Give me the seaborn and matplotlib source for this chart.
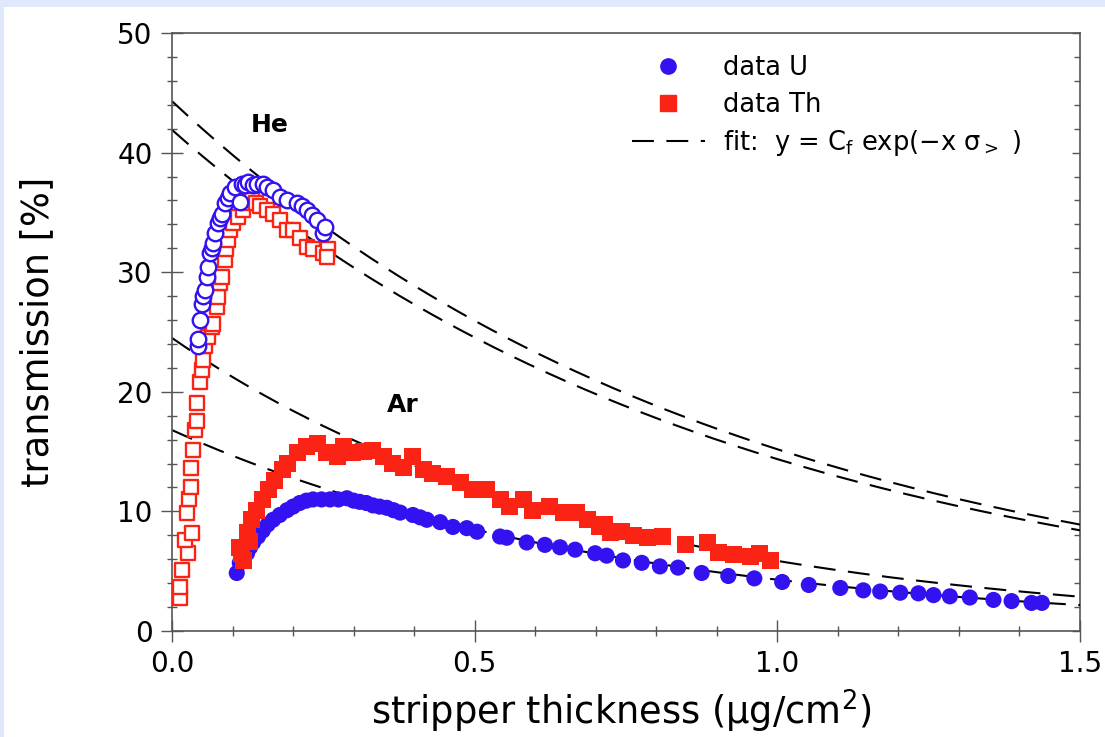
import numpy as np
import pandas as pd
import matplotlib
matplotlib.use("Agg")
import matplotlib.pyplot as plt
from matplotlib.lines import Line2D
from matplotlib.patches import Rectangle
from matplotlib.ticker import MultipleLocator, FixedLocator
import seaborn as sns

# ---- He stripper, Th beam (open squares) ----
he_th_x = [0.013, 0.013, 0.017, 0.027, 0.022, 0.033, 0.025, 0.028, 0.031, 0.032,
           0.035, 0.038, 0.041, 0.041, 0.046, 0.049, 0.051, 0.054, 0.060, 0.066,
           0.068, 0.074, 0.076, 0.079, 0.082, 0.088, 0.090, 0.093, 0.096, 0.100,
           0.109, 0.117, 0.124, 0.132, 0.138, 0.145, 0.157, 0.167, 0.178, 0.190,
           0.200, 0.211, 0.223, 0.233, 0.250, 0.258, 0.256]
he_th_y = [2.8, 3.7, 5.1, 6.5, 7.6, 8.2, 9.9, 11.0, 12.0, 13.6,
           15.1, 16.8, 17.6, 19.1, 20.8, 21.8, 22.7, 23.8, 24.6, 25.4,
           25.7, 27.1, 27.9, 29.1, 29.6, 31.0, 31.9, 32.7, 33.5, 34.1,
           34.6, 35.2, 35.8, 36.0, 35.8, 35.5, 35.2, 34.9, 34.4, 33.5,
           33.5, 32.9, 32.1, 31.9, 31.6, 31.9, 31.3]

# ---- He stripper, U beam (open circles) ----
he_u_x = [0.043, 0.043, 0.046, 0.049, 0.052, 0.054, 0.058, 0.060, 0.063, 0.066,
          0.068, 0.071, 0.076, 0.080, 0.083, 0.088, 0.092, 0.096, 0.104, 0.112,
          0.115, 0.120, 0.126, 0.133, 0.140, 0.151, 0.157, 0.167, 0.178, 0.190,
          0.206, 0.215, 0.223, 0.232, 0.240, 0.250, 0.253]
he_u_y = [23.8, 24.4, 26.0, 27.3, 28.0, 28.5, 29.6, 30.4, 31.6, 32.0,
          32.4, 33.3, 34.1, 34.5, 34.9, 35.8, 36.2, 36.6, 37.1, 35.9,
          37.4, 37.3, 37.5, 37.3, 37.4, 37.4, 37.1, 36.9, 36.3, 36.0,
          35.8, 35.5, 35.2, 34.8, 34.4, 33.3, 33.8]

# ---- Ar stripper, U beam (filled circles) ----
ar_u_x = [0.107, 0.112, 0.118, 0.124, 0.129, 0.134, 0.142, 0.150, 0.158, 0.167,
          0.178, 0.190, 0.200, 0.211, 0.222, 0.233, 0.247, 0.261, 0.275, 0.289,
          0.300, 0.310, 0.321, 0.332, 0.343, 0.355, 0.366, 0.377, 0.398, 0.410,
          0.421, 0.443, 0.464, 0.487, 0.504, 0.542, 0.553, 0.586, 0.616, 0.641,
          0.666, 0.699, 0.718, 0.745, 0.776, 0.806, 0.836, 0.875, 0.919, 0.962,
          1.008, 1.052, 1.104, 1.142, 1.170, 1.203, 1.233, 1.258, 1.285, 1.318,
          1.357, 1.387, 1.420, 1.437]
ar_u_y = [4.85, 5.7, 6.1, 6.5, 7.0, 7.4, 7.9, 8.4, 8.9, 9.3,
          9.7, 10.1, 10.4, 10.7, 10.9, 11.0, 11.0, 11.0, 11.0, 11.1,
          10.9, 10.8, 10.7, 10.5, 10.4, 10.3, 10.1, 9.9, 9.7, 9.5,
          9.3, 9.1, 8.7, 8.6, 8.3, 7.9, 7.8, 7.4, 7.2, 7.0,
          6.8, 6.5, 6.3, 5.9, 5.7, 5.4, 5.3, 4.85, 4.6, 4.4,
          4.1, 3.85, 3.6, 3.4, 3.3, 3.2, 3.15, 3.0, 2.9, 2.8,
          2.6, 2.5, 2.35, 2.35]

# ---- Ar stripper, Th beam (filled squares) ----
ar_th_x = [0.112, 0.118, 0.115, 0.124, 0.128, 0.132, 0.140, 0.150, 0.159, 0.170,
           0.182, 0.190, 0.207, 0.223, 0.240, 0.256, 0.273, 0.283, 0.299, 0.316,
           0.332, 0.349, 0.365, 0.382, 0.398, 0.415, 0.431, 0.454, 0.476, 0.497,
           0.520, 0.542, 0.558, 0.580, 0.596, 0.624, 0.646, 0.669, 0.686, 0.707,
           0.724, 0.715, 0.743, 0.762, 0.785, 0.811, 0.848, 0.884, 0.902, 0.927,
           0.955, 0.971, 0.988]
ar_th_y = [7.0, 5.9, 6.5, 8.2, 7.5, 9.3, 10.1, 11.0, 11.8, 12.6,
           13.5, 14.0, 14.9, 15.4, 15.7, 14.9, 14.6, 15.4, 14.9, 15.0,
           15.1, 14.6, 14.0, 13.7, 14.6, 13.5, 13.2, 12.9, 12.4, 11.8,
           11.8, 11.0, 10.4, 11.0, 10.1, 10.4, 9.9, 9.9, 9.3, 8.7,
           8.2, 8.9, 8.3, 8.0, 7.8, 7.9, 7.2, 7.4, 6.6, 6.4,
           6.2, 6.5, 5.9]

# ---- exponential fits y = C_f * exp(-x * sigma) ----
fit_names = ["He U", "He Th", "Ar U", "Ar Th"]
fit_cf = [44.3, 41.9, 16.8, 24.5]
fit_sigma = [1.07, 1.07, 1.365, 1.43]

x_ticks = [0.0, 0.5, 1.0, 1.5]
x_tick_labels = ["0.0", "0.5", "1.0", "1.5"]
y_ticks = [0, 10, 20, 30, 40, 50]

BLUE = "#3212f0"
RED = "#fb2414"
GREY = "#555555"
DASH = (0, (10.5, 6))

sns.set_style("white")
plt.rcParams["font.family"] = ["DejaVu Sans"]
plt.rcParams["mathtext.default"] = "regular"
plt.rcParams["text.color"] = "black"
plt.rcParams["axes.labelcolor"] = "black"

fig = plt.figure(figsize=(11.05, 7.37), dpi=100, facecolor="#dfe9fb")
fig.patches.append(Rectangle((4 / 1105, 0), 1, 730 / 737, transform=fig.transFigure,
                             facecolor="white", edgecolor="none", zorder=-10))
ax = fig.add_axes([172 / 1105, 106 / 737, 908 / 1105, 598 / 737])
ax.set_facecolor("white")

# fitted curves
x_fit = np.linspace(0.0, 1.5, 300)
for cf, sig in zip(fit_cf, fit_sigma):
    fit_df = pd.DataFrame({"x": x_fit, "y": cf * np.exp(-x_fit * sig)})
    sns.lineplot(data=fit_df, x="x", y="y", color="black", linewidth=1.5,
                 linestyle=DASH, ax=ax, zorder=2)

# He data (open markers)
sns.scatterplot(x=he_th_x, y=he_th_y, marker="s", s=110, color="white",
                edgecolor=RED, linewidth=1.7, ax=ax, zorder=3)
sns.scatterplot(x=he_u_x, y=he_u_y, marker="o", s=125, color="white",
                edgecolor=BLUE, linewidth=1.7, ax=ax, zorder=4)

# Ar data (filled markers)
sns.scatterplot(x=ar_u_x, y=ar_u_y, marker="o", s=135, color=BLUE,
                edgecolor="none", linewidth=0, ax=ax, zorder=3)
sns.scatterplot(x=ar_th_x, y=ar_th_y, marker="s", s=150, color=RED,
                edgecolor="none", linewidth=0, ax=ax, zorder=4)

ax.text(0.162, 42.3, "He", fontsize=18, fontweight="bold", ha="center", va="center")
ax.text(0.381, 18.9, "Ar", fontsize=18, fontweight="bold", ha="center", va="center")

ax.set_xlim(0, 1.5)
ax.set_ylim(0, 50)
ax.xaxis.set_major_locator(FixedLocator(x_ticks))
ax.set_xticklabels(x_tick_labels)
ax.yaxis.set_major_locator(FixedLocator(y_ticks))
ax.xaxis.set_minor_locator(MultipleLocator(0.1))
ax.yaxis.set_minor_locator(MultipleLocator(2))

for side in ["left", "bottom", "top"]:
    ax.spines[side].set_color(GREY)
    ax.spines[side].set_linewidth(1.2)
ax.spines["right"].set_visible(False)

ax.tick_params(which="major", direction="inout", length=16, width=1.0, color=GREY,
               labelsize=20, labelcolor="black", pad=6,
               left=True, bottom=True, top=False, right=False)
ax.tick_params(which="minor", direction="inout", length=6.5, width=1.0, color=GREY,
               left=True, bottom=True, top=False, right=False)

sec = ax.secondary_yaxis("right")
sec.yaxis.set_major_locator(FixedLocator(y_ticks))
sec.yaxis.set_minor_locator(MultipleLocator(2))
sec.tick_params(which="major", direction="in", length=6, width=1.0, color=GREY,
                labelright=False)
sec.tick_params(which="minor", direction="in", length=4, width=1.0, color=GREY)
sec.spines["right"].set_color(GREY)
sec.spines["right"].set_linewidth(1.2)

ax.set_xlabel(r"stripper thickness (μg/cm$^{2}$)", fontsize=26.5)
ax.set_ylabel("transmission [%]", fontsize=26.5)
ax.xaxis.set_label_coords(0.4945, -0.095)
ax.yaxis.set_label_coords(-0.128, 0.5)

handles = [
    Line2D([], [], marker="o", color=BLUE, linestyle="none", markersize=11),
    Line2D([], [], marker="s", color=RED, linestyle="none", markersize=11),
    Line2D([], [], color="black", linewidth=1.5, linestyle=DASH),
]
labels = ["data U", "data Th", r"fit:  y = C$_{f}$ exp(−x σ$_{>}$ )"]
ax.legend(handles, labels, loc="upper left", bbox_to_anchor=(619 / 1105, 695 / 737),
          bbox_transform=fig.transFigure, frameon=False, fontsize=18.5,
          handlelength=2.85, handletextpad=0.7, labelspacing=0.42, borderpad=0)

fig.savefig("out.png", dpi=100, facecolor=fig.get_facecolor())
